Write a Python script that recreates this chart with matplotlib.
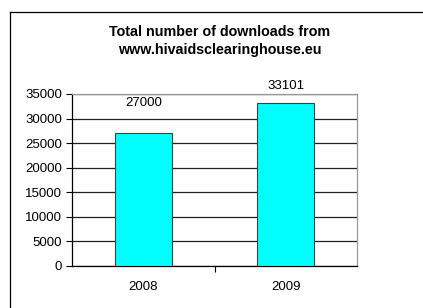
import matplotlib
matplotlib.use("Agg")
import matplotlib.pyplot as plt
from matplotlib.lines import Line2D

categories = ["2008", "2009"]
downloads = [27000, 33101]
value_labels = ["27000", "33101"]
yticks = [0, 5000, 10000, 15000, 20000, 25000, 30000, 35000]

W, H = 423, 308
plt.rcParams['font.family'] = ['Liberation Sans', 'DejaVu Sans']
fig = plt.figure(figsize=(W / 100, H / 100), dpi=100)

# outer chart border (clipped at right/bottom)
bx, by = 9.5 / W, 1 - 11.5 / H
fig.add_artist(Line2D([bx, bx], [0, by], transform=fig.transFigure, color='black', linewidth=0.9))
fig.add_artist(Line2D([bx, 1], [by, by], transform=fig.transFigure, color='black', linewidth=0.9))

left, right, top, bottom = 72, 357, 94, 266
ax = fig.add_axes([left / W, 1 - bottom / H, (right - left) / W, (bottom - top) / H])

x = list(range(len(categories)))
ax.bar(x, downloads, width=0.4, color='#00FFFF', edgecolor='#404040', linewidth=0.8, zorder=3)
ax.set_xlim(-0.5, 1.5)
ax.set_ylim(0, 35000)
ax.set_yticks(yticks)
ax.set_yticklabels([str(v) for v in yticks], fontsize=9.5)
ax.set_xticks(x)
ax.set_xticklabels(categories, fontsize=9.5)
ax.tick_params(axis='x', length=0, pad=11)
ax.tick_params(axis='y', length=4, width=0.8, pad=3)
ax.set_xticks([0.5], minor=True)
ax.tick_params(axis='x', which='minor', length=4, width=0.8)
ax.yaxis.grid(True, color='#202020', linewidth=0.9, zorder=1)
ax.set_axisbelow(True)
for s in ['top', 'right']:
    ax.spines[s].set_color('#999999')
    ax.spines[s].set_linewidth(0.9)
for s in ['left', 'bottom']:
    ax.spines[s].set_color('black')
    ax.spines[s].set_linewidth(0.9)

offsets = [21.6, 12.5]
for xi, v, lab, off in zip(x, downloads, value_labels, offsets):
    ax.annotate(lab, (xi, v), xytext=(0, off), textcoords='offset points',
                ha='center', va='center', fontsize=9.5, annotation_clip=False)

fig.text(220 / W, 1 - 32 / H, "Total number of downloads from", ha='center', va='center',
         fontsize=10.3, fontweight='bold')
fig.text(220 / W, 1 - 50 / H, "www.hivaidsclearinghouse.eu", ha='center', va='center',
         fontsize=10.3, fontweight='bold')

fig.savefig("out.png", dpi=100)
